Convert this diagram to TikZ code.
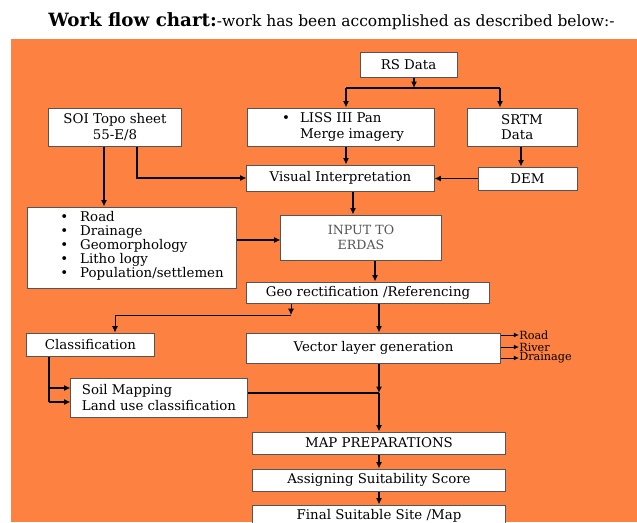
\documentclass[tikz,border=0pt]{standalone}
\usepackage{fontspec}
\setmainfont{DejaVu Serif}
\usetikzlibrary{arrows.meta,positioning,calc}
\definecolor{chartbg}{HTML}{FD8141}
\definecolor{boxline}{HTML}{555555}
\definecolor{softtext}{HTML}{555555}
\tikzset{
  % white step box with a thin dark rim
  stepbox/.style  = {rectangle, draw=boxline, fill=white, line width=0.7pt, inner sep=2pt,
                     font=\fontsize{9.5}{11}\selectfont, align=center},
  link/.style     = {-{Latex[length=1.6mm,width=1.5mm]}, line width=0.9pt},
  thin link/.style = {-{Latex[length=1.6mm,width=1.5mm]}, line width=0.6pt},
  small link/.style = {-{Latex[length=1.3mm,width=1.2mm]}, line width=0.6pt},
  plain/.style    = {line width=0.9pt},
  outlbl/.style   = {font=\fontsize{8}{9}\selectfont, inner sep=0pt, anchor=west},
}

\begin{document}
\begin{tikzpicture}[x=0.025cm,y=-0.025cm]
\useasboundingbox (0,0) rectangle (637,522);
% --- title and orange backdrop ---------------------------------------------
\node[anchor=base west, inner sep=0pt] (title) at (48,26)
  {{\fontsize{13}{15}\selectfont\bfseries Work flow chart:}{\fontsize{11}{13}\selectfont -work has been accomplished as described below:-}};
\fill[chartbg] (11,39) rectangle (637,522);
% --- source data --------------------------------------------------------------
\node[stepbox, minimum width=2.425cm, minimum height=0.625cm] (rs) at (408.5,64.5) {RS Data};
\node[stepbox, minimum width=4.65cm, minimum height=0.95cm, align=left] (liss) at (341,127)
  {\hspace*{0.55cm}\llap{\textbullet\hspace{2.5mm}}LISS III Pan\\\hspace*{0.55cm}Merge imagery};
\node[stepbox, minimum width=2.75cm, minimum height=0.95cm, align=left] (srtm) at (522,127) {SRTM\\Data};
\node[stepbox, minimum width=3.3cm, minimum height=0.95cm] (soi) at (115,127) {SOI Topo sheet\\55-E/8};
\node[stepbox, minimum width=4.675cm, minimum height=0.65cm] (vis) at (340.5,178) {Visual Interpretation};
\node[stepbox, minimum width=2.475cm, minimum height=0.575cm] (dem) at (527.5,178.5) {DEM};
% --- thematic layers from the topo sheet ---------------------------------------
\node[stepbox, minimum width=5.2cm, minimum height=2.025cm] (feat) at (132,247.5) {};
\node[anchor=north west, align=left, inner sep=0pt, font=\fontsize{9.5}{9.96}\selectfont] (featlist) at (60,211)
  {\textbullet\hspace{3mm}Road\\
   \textbullet\hspace{3mm}Drainage\\
   \textbullet\hspace{3mm}Geomorphology\\
   \textbullet\hspace{3mm}Litho logy\\
   \textbullet\hspace{3mm}Population/settlemen};
\node[stepbox, minimum width=4cm, minimum height=1.125cm, text=softtext,
      font=\fontsize{9}{11}\selectfont] (erdas) at (361,237.5) {INPUT TO\\ERDAS};
% --- processing ---------------------------------------------------------------
\node[stepbox, minimum width=6.05cm, minimum height=0.525cm] (geo) at (368,292.5) {Geo rectification /Referencing};
\node[stepbox, minimum width=3.175cm, minimum height=0.575cm] (cls) at (90.5,344.5) {Classification};
\node[stepbox, minimum width=6.325cm, minimum height=0.75cm] (vec) at (373.5,348) {Vector layer generation};
\node[stepbox, minimum width=4.4cm, minimum height=0.975cm, align=left] (soil) at (159,397.5)
  {Soil Mapping\\Land use classification};
\node[stepbox, minimum width=6.3cm, minimum height=0.55cm] (map) at (379,443) {MAP PREPARATIONS};
\node[stepbox, minimum width=6.3cm, minimum height=0.55cm] (score) at (379,480) {Assigning Suitability Score};
\node[stepbox, minimum width=6.3cm, minimum height=0.55cm] (final) at (379,516) {Final Suitable Site /Map};
% --- vector outputs -----------------------------------------------------------
\foreach \name/\txt/\yy in {vroad/Road/335, vriver/River/347, vdrain/Drainage/358} {
  \node[outlbl] (\name) at (519,\yy) {\txt};
  \draw[small link] (vec.east |- \name.west) -- (\name.west);
}
% --- connectors ---------------------------------------------------------------
\coordinate (rssplit) at (414,88);
\coordinate (lissin) at (346,88);
\coordinate (srtmin) at (500,88);
\draw[link] (rs.south -| rssplit) -- (rssplit);
\draw[plain] (lissin) -- (srtmin);
\draw[link] (lissin) -- (liss.north -| lissin);
\draw[link] (srtmin) -- (srtm.north -| srtmin);
\draw[link] (liss.south -| lissin) -- (vis.north -| lissin);
\coordinate (srtmout) at (521,0);
\draw[link] (srtm.south -| srtmout) -- (dem.north -| srtmout);
\draw[link] (dem.west) -- (dem.west -| vis.east);
\coordinate (soidown) at (104,0);
\coordinate (soiside) at (137,0);
\draw[link, line width=2pt] (soi.south -| soidown) -- (feat.north -| soidown);
\draw[link] (soi.south -| soiside) |- (vis.west);
\coordinate (visdown) at (353,0);
\draw[link] (vis.south -| visdown) -- (erdas.north -| visdown);
\coordinate (featout) at (0,240);
\draw[link] (feat.east |- featout) -- (erdas.west |- featout);
\coordinate (erdasdown) at (375,0);
\draw[link] (erdas.south -| erdasdown) -- (geo.north -| erdasdown);
\coordinate (clsturn) at (291,315);
\coordinate (clsdrop) at (115,315);
\draw[thin link] (geo.south -| clsturn) -- (clsturn);
\draw[thin link] (clsturn) -- (clsdrop) -- (cls.north -| clsdrop);
\coordinate (mainline) at (379,0);
\coordinate (soiljoin) at (379,393);
\draw[link] (geo.south -| mainline) -- (vec.north -| mainline);
\draw[link] (vec.south -| mainline) -- (soiljoin);
\draw[plain] (soil.east |- soiljoin) -- (soiljoin);
\draw[link] (soiljoin) -- (map.north);
\draw[link] (map) -- (score);
\draw[link] (score) -- (final);
\coordinate (clsfeed) at (49,0);
\coordinate (soilin1) at (0,388);
\coordinate (soilin2) at (0,402);
\draw[plain] (cls.south -| clsfeed) -- (clsfeed |- soilin2);
\draw[link] (clsfeed |- soilin1) -- (soil.west |- soilin1);
\draw[link] (clsfeed |- soilin2) -- (soil.west |- soilin2);
\end{tikzpicture}
\end{document}
